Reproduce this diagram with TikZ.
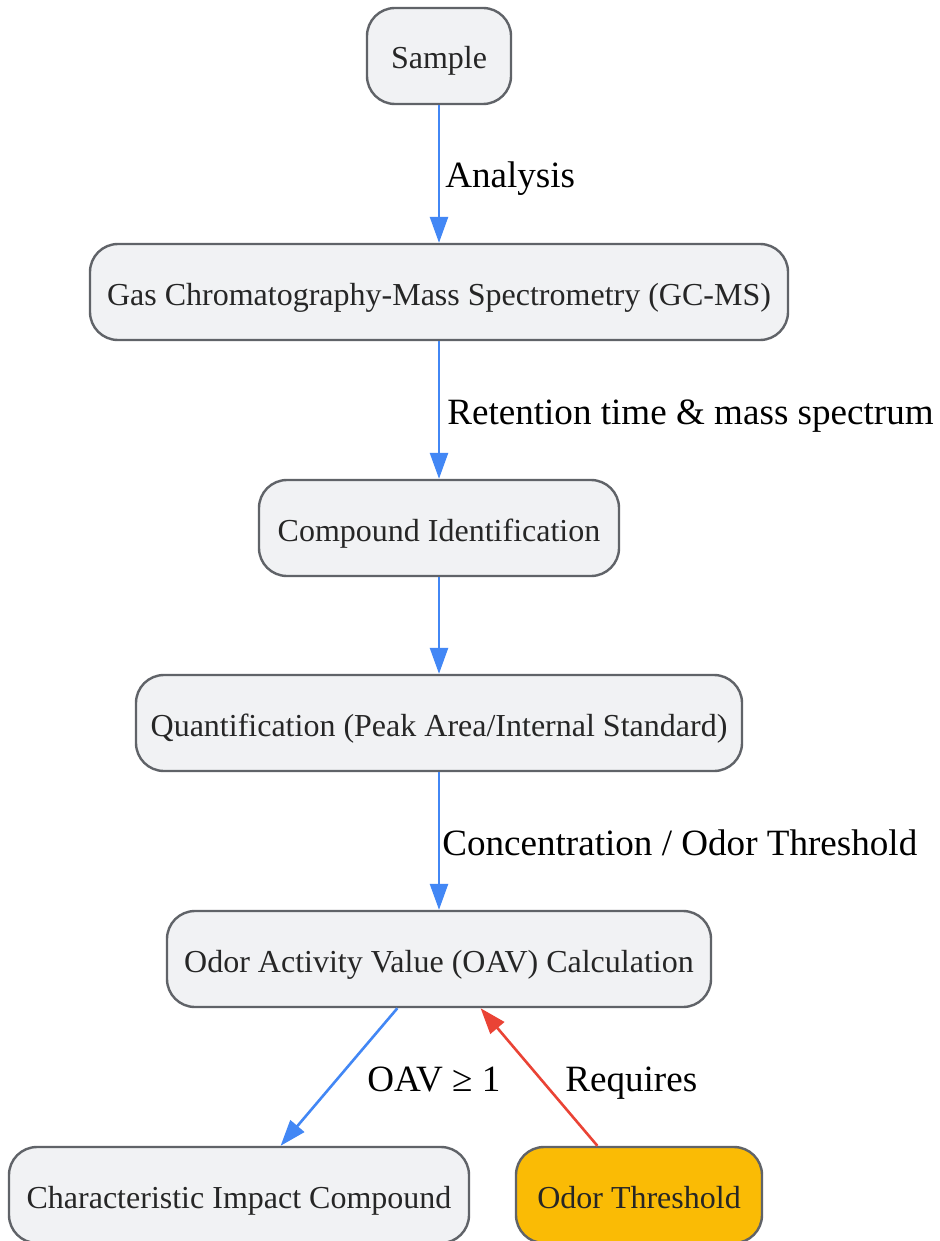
\documentclass[tikz,border=0pt]{standalone}
\usepackage{fontspec}
\setmainfont{Liberation Serif}
\usetikzlibrary{arrows.meta}
\definecolor{boxfill}{HTML}{F1F2F4}
\definecolor{boxline}{HTML}{606368}
\definecolor{boxtext}{HTML}{262626}
\definecolor{flowblue}{HTML}{4287F5}
\definecolor{flowred}{HTML}{EA4335}
\definecolor{amber}{HTML}{FABB05}
\tikzset{
  stepbox/.style={draw=boxline, fill=boxfill, line width=2.4pt, rounded corners=28pt,
    minimum height=96pt, inner sep=0pt, text=boxtext, text height=26pt, text depth=0pt,
    font=\fontsize{32}{36}\selectfont},
  flow/.style={draw=flowblue, line width=2.6pt, -{Triangle[length=26pt,width=18pt]}},
  redflow/.style={draw=flowred, line width=2.6pt, -{Triangle[length=26pt,width=18pt]}},
  lbl/.style={font=\fontsize{37.1}{42}\selectfont, text=black, inner sep=0pt, anchor=west,
    text height=28pt, text depth=0pt}
}
\begin{document}
\begin{tikzpicture}[x=1pt,y=-1pt]
\fill[white] (0,0) rectangle (939,1241);
\useasboundingbox (0,0) rectangle (939,1241);
\node[stepbox, minimum width=144pt] (sample) at (439,56) {Sample};
\node[stepbox, minimum width=698pt] (gc) at (439,292) {Gas Chromatography-Mass Spectrometry (GC-MS)};
\node[stepbox, minimum width=360pt] (ci) at (439,528) {Compound Identification};
\node[stepbox, minimum width=606pt] (q) at (439,723) {Quantification (Peak Area/Internal Standard)};
\node[stepbox, minimum width=544pt] (oav) at (439,959) {Odor Activity Value (OAV) Calculation};
\node[stepbox, minimum width=460pt] (cic) at (239,1195) {Characteristic Impact Compound};
\node[stepbox, minimum width=246pt, fill=amber] (ot) at (639,1195) {Odor Threshold};
\draw[flow] (sample) -- node[lbl, xshift=5pt] {Analysis} (gc);
\draw[flow] (gc) -- node[lbl, xshift=7pt] {Retention time \& mass spectrum} (ci);
\draw[flow] (ci) -- (q);
\draw[flow] (q) -- node[lbl, xshift=2pt] {Concentration / Odor Threshold} (oav);
\draw[flow] (oav) -- node[lbl, xshift=27pt] {OAV ≥ 1} (cic);
\draw[redflow] (ot) -- node[lbl, xshift=25pt] {Requires} (oav);
\end{tikzpicture}
\end{document}
